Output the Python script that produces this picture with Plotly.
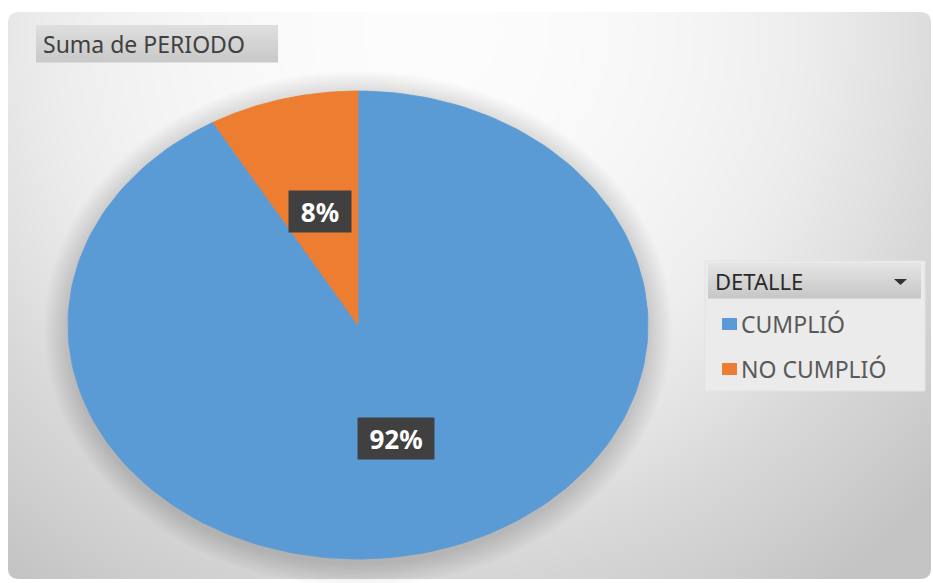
import numpy as np
import plotly.graph_objects as go

# ---------------- data ----------------
categories = ["CUMPLIÓ", "NO CUMPLIÓ"]
values = [11, 1]
colors = ["#5B9BD5", "#ED7D31"]
chart_title = "Suma de PERIODO"
legend_title = "DETALLE"

# ---------------- layout constants (pixels) ----------------
W, H = 933, 583
CX, CY, RX, RY = 358, 325, 290, 234
FONT = "Noto Sans"

fig = go.Figure()

# background gradient (chart area)
xe = np.linspace(8, 931, 161)
ye = np.linspace(12, 579, 101)
xc = (xe[:-1] + xe[1:]) / 2
yc = (ye[:-1] + ye[1:]) / 2
X, Y = np.meshgrid(xc, yc)
D2 = (X - 430) ** 2 + (Y - 30) ** 2
Z = np.clip(D2 / 680 ** 2, 0, 1)
fig.add_trace(go.Heatmap(x=xe, y=ye, z=Z, zmin=0, zmax=1, zsmooth="best",
                         colorscale=[[0, "#fcfcfc"], [0.3, "#ededed"], [0.6, "#d8d8d8"], [1, "#c4c4c4"]],
                         showscale=False, hoverinfo="skip"))

def ellipse_arc(t0, t1, rx, ry, cx=CX, cy=CY, n=200, center=True):
    t = np.linspace(t0, t1, n)
    xs = cx + rx * np.sin(t)
    ys = cy - ry * np.cos(t)
    if center:
        xs = np.concatenate([[cx], xs, [cx]])
        ys = np.concatenate([[cy], ys, [cy]])
    return xs, ys

# soft shadow around the pie
for s in range(24, 0, -2):
    xs, ys = ellipse_arc(0, 2 * np.pi, RX + s, RY + s, cy=CY + 4, n=300, center=False)
    fig.add_trace(go.Scatter(x=xs, y=ys, mode="lines", fill="toself",
                             fillcolor="rgba(30,25,20,0.012)", line=dict(width=0),
                             hoverinfo="skip", showlegend=False))

# pie slices (clockwise from 12 o'clock)
total = sum(values)
start = 0.0
annotations = []
for cat, val, col in zip(categories, values, colors):
    frac = val / total
    t0 = start * 2 * np.pi
    t1 = (start + frac) * 2 * np.pi
    xs, ys = ellipse_arc(t0, t1, RX, RY)
    fig.add_trace(go.Scatter(x=xs, y=ys, mode="lines", fill="toself", fillcolor=col,
                             line=dict(width=0.8, color=col), name=cat,
                             hoverinfo="name", showlegend=False))
    tm = (t0 + t1) / 2
    lx = CX + 0.5 * RX * np.sin(tm)
    ly = CY - 0.5 * RY * np.cos(tm)
    txt = f"{round(frac * 100)}%"
    annotations.append(dict(x=lx, y=ly, xref="x", yref="y", text=f"<b>{txt}</b>",
                            showarrow=False, bgcolor="#404040",
                            font=dict(family=FONT, size=26, color="white"),
                            width=26 + 14 * len(txt), height=33, borderpad=4,
                            xanchor="center", yanchor="middle"))
    start += frac

shapes = []
# rounded corners of the chart area
r = 11
for (x0, y0, sx, sy) in [(8, 12, 1, 1), (931, 12, -1, 1), (8, 579, 1, -1), (931, 579, -1, -1)]:
    p = (f"M {x0} {y0} L {x0 + sx * r} {y0} "
         f"Q {x0} {y0} {x0} {y0 + sy * r} Z")
    shapes.append(dict(type="path", xref="x", yref="y", path=p,
                       fillcolor="white", line=dict(width=0), layer="above"))

# title box (vertical gradient)
nb = 12
for i in range(nb):
    g = int(222 - (222 - 202) * i / (nb - 1))
    shapes.append(dict(type="rect", xref="x", yref="y", x0=36, x1=278,
                       y0=25 + i * 37 / nb, y1=25 + (i + 1) * 37 / nb + 0.5,
                       fillcolor=f"rgb({g},{g},{g})", line=dict(width=0), layer="above"))
annotations.append(dict(x=41, y=44, xref="x", yref="y", text=chart_title, showarrow=False,
                        xanchor="left", yanchor="middle",
                        font=dict(family=FONT, size=23, color="#404040")))

# legend box
shapes.append(dict(type="rect", xref="x", yref="y", x0=705, x1=925, y0=261, y1=391,
                   fillcolor="#ebebeb", line=dict(width=1, color="#e3e3e3"), layer="above"))
for i in range(nb):
    g = int(228 - (228 - 200) * i / (nb - 1))
    shapes.append(dict(type="rect", xref="x", yref="y", x0=708, x1=921,
                       y0=263 + i * 35 / nb, y1=263 + (i + 1) * 35 / nb + 0.5,
                       fillcolor=f"rgb({g},{g},{g})", line=dict(width=0), layer="above"))
shapes.append(dict(type="path", xref="x", yref="y", path="M 894 279 L 907 279 L 900.5 285 Z",
                   fillcolor="#333333", line=dict(width=0), layer="above"))
annotations.append(dict(x=713, y=281, xref="x", yref="y", text=legend_title, showarrow=False,
                        xanchor="left", yanchor="middle",
                        font=dict(family=FONT, size=22, color="#2a2a2a")))
for i, (cat, col) in enumerate(zip(categories, colors)):
    yy = 324 + 45 * i
    shapes.append(dict(type="rect", xref="x", yref="y", x0=722, x1=737, y0=yy - 6, y1=yy + 6,
                       fillcolor=col, line=dict(width=0), layer="above"))
    annotations.append(dict(x=739, y=yy, xref="x", yref="y", text=cat, showarrow=False,
                            xanchor="left", yanchor="middle",
                            font=dict(family=FONT, size=23, color="#595959")))

fig.update_layout(
    width=W, height=H, margin=dict(l=0, r=0, t=0, b=0),
    paper_bgcolor="white", plot_bgcolor="white",
    xaxis=dict(range=[0, W], visible=False, fixedrange=True),
    yaxis=dict(range=[H, 0], visible=False, fixedrange=True),
    shapes=shapes, annotations=annotations, showlegend=False,
)

fig.write_html("out.html")
